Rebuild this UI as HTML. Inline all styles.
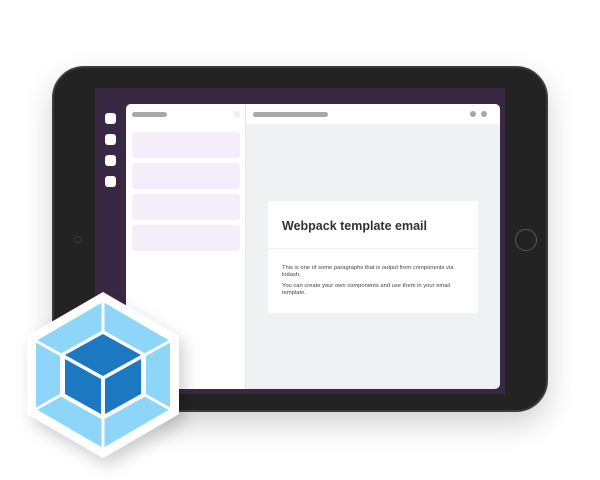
<!DOCTYPE html>
<html><head><style>
*{margin:0;padding:0;box-sizing:border-box}
body{width:600px;height:480px;background:#fff;position:relative;overflow:hidden;font-family:"Liberation Sans",sans-serif}
.a{position:absolute}
</style></head><body>
<div class="a" style="left:52px;top:66px;width:496px;height:346px;background:#232323;border-radius:32px;border:2px solid #3a3c3e;box-shadow:0 12px 30px rgba(0,0,0,.18)"></div>
<div class="a" style="left:95px;top:88px;width:410px;height:306px;background:#392843"></div>
<div class="a" style="left:74px;top:236px;width:7px;height:7px;border-radius:50%;border:1px solid #3c3c3c"></div>
<div class="a" style="left:515px;top:229px;width:22px;height:22px;border-radius:50%;border:1px solid #5a5a5a"></div>
<div class="a" style="left:105px;top:113px;width:11px;height:11px;background:#fff;border-radius:3px"></div>
<div class="a" style="left:105px;top:134px;width:11px;height:11px;background:#fff;border-radius:3px"></div>
<div class="a" style="left:105px;top:155px;width:11px;height:11px;background:#fff;border-radius:3px"></div>
<div class="a" style="left:105px;top:176px;width:11px;height:11px;background:#fff;border-radius:3px"></div>
<div class="a" style="left:126px;top:104px;width:374px;height:285px;background:#f0f1f3;border-radius:5px;overflow:hidden">
 <div class="a" style="left:0;top:0;width:374px;height:20px;background:#fff"></div>
 <div class="a" style="left:0;top:0;width:120px;height:285px;background:#fff;border-right:1px solid #e6e6e6"></div>
 <div class="a" style="left:6px;top:8px;width:35px;height:5px;background:#a8a8a8;border-radius:3px"></div>
 <div class="a" style="left:108px;top:7px;width:6px;height:6px;background:#f1ecf9;border-radius:2px"></div>
 <div class="a" style="left:127px;top:8px;width:75px;height:5px;background:#a8a8a8;border-radius:3px"></div>
 <div class="a" style="left:344px;top:7px;width:6px;height:6px;background:#a8a8a8;border-radius:50%"></div>
 <div class="a" style="left:355px;top:7px;width:6px;height:6px;background:#a8a8a8;border-radius:50%"></div>
 <div class="a" style="left:6px;top:28px;width:108px;height:26px;background:#f3eefa;border-radius:3px"></div>
 <div class="a" style="left:6px;top:59px;width:108px;height:26px;background:#f3eefa;border-radius:3px"></div>
 <div class="a" style="left:6px;top:90px;width:108px;height:26px;background:#f3eefa;border-radius:3px"></div>
 <div class="a" style="left:6px;top:121px;width:108px;height:26px;background:#f3eefa;border-radius:3px"></div>
 <div class="a" style="left:142px;top:97px;width:210px;height:112px;background:#fff">
  <div class="a" style="left:14px;top:18px;font-size:12.5px;font-weight:bold;color:#333">Webpack template email</div>
  <div class="a" style="left:0;top:47px;width:210px;height:1px;background:#f0f0f0"></div>
  <div class="a" style="left:14px;top:64px;width:172px;font-size:5.8px;line-height:6.8px;color:#444">This is one of some paragraphs that is output from components via lodash.</div>
  <div class="a" style="left:14px;top:82px;width:172px;font-size:5.8px;line-height:6.8px;color:#444">You can create your own components and use them in your email template.</div>
 </div>
</div>
<svg class="a" style="left:0;top:270px" width="240" height="210" viewBox="0 270 240 210">
 <defs><filter id="s" x="-30%" y="-30%" width="160%" height="160%"><feDropShadow dx="5" dy="8" stdDeviation="8" flood-opacity=".18"/></filter></defs>
 <polygon points="103,292 179,336 179,414 103,458 27,414 27,336" fill="#fff" filter="url(#s)"/>
 <polygon points="103,302 170,341 170,409 103,448 36,409 36,341" fill="#8ed5fa"/>
 <g stroke="#fff" stroke-width="3">
  <line x1="103" y1="302" x2="103" y2="333"/>
  <line x1="170" y1="341" x2="143" y2="356"/>
  <line x1="170" y1="409" x2="143" y2="394"/>
  <line x1="103" y1="448" x2="103" y2="417"/>
  <line x1="36" y1="409" x2="63" y2="394"/>
  <line x1="36" y1="341" x2="63" y2="356"/>
 </g>
 <polygon points="103,330 146,354 146,396 103,420 60,396 60,354" fill="#fff"/>
 <polygon points="103,334 141,355 103,376 65,355" fill="#1c78c0"/>
 <polygon points="65,359 101,379 101,414 65,394" fill="#1c78c0"/>
 <polygon points="141,359 105,379 105,414 141,394" fill="#1c78c0"/>
</svg>
</body></html>
